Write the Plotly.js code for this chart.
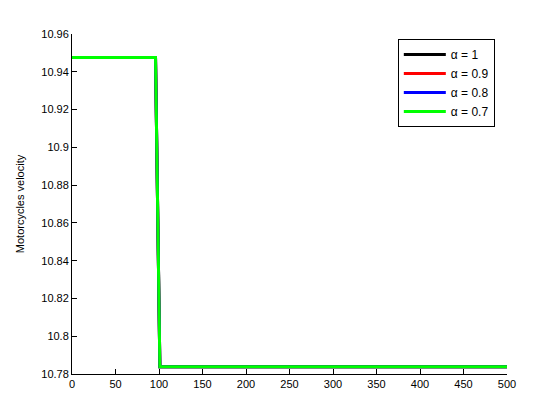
<!DOCTYPE html>
<html>
<head>
<meta charset="utf-8">
<script src="https://cdn.plot.ly/plotly-3.0.1.min.js"></script>
<style>
  html, body { margin: 0; padding: 0; background: #fff; }
  #chart { width: 560px; height: 420px; }
</style>
</head>
<body>
<div id="chart"></div>
<script>
// time axis (breakpoints of the step)
var time = [0, 96, 101, 500];

// velocity for each alpha (curves overlap)
var vAlpha1  = [10.9475, 10.9475, 10.7838, 10.7838];
var vAlpha09 = [10.9475, 10.9475, 10.7838, 10.7838];
var vAlpha08 = [10.9475, 10.9475, 10.7838, 10.7838];
var vAlpha07 = [10.9475, 10.9475, 10.7838, 10.7838];

var seriesNames = ['\u03b1 = 1', '\u03b1 = 0.9', '\u03b1 = 0.8', '\u03b1 = 0.7'];
var seriesColors = ['#000000', '#ff0000', '#0000ff', '#00ff00'];
var seriesValues = [vAlpha1, vAlpha09, vAlpha08, vAlpha07];

var traces = [];
for (var i = 0; i < seriesValues.length; i++) {
    traces.push({
        x: time,
        y: seriesValues[i],
        name: seriesNames[i],
        mode: 'lines',
        type: 'scatter',
        line: {color: seriesColors[i], width: 3}
    });
}

var axisCommon = {
    showline: true,
    linecolor: '#000',
    linewidth: 1,
    ticks: 'inside',
    ticklen: 5,
    tickcolor: '#000',
    showgrid: false,
    zeroline: false,
    mirror: false,
    tickfont: {family: 'Arial, "Liberation Sans", sans-serif', size: 11, color: '#000'}
};

var layout = {
    width: 560,
    height: 420,
    paper_bgcolor: '#fff',
    plot_bgcolor: '#fff',
    font: {family: 'Arial, "Liberation Sans", sans-serif', size: 11, color: '#000'},
    margin: {l: 72, r: 53, t: 34, b: 46},
    showlegend: true,
    legend: {
        x: 0.749, y: 0.985,
        xanchor: 'left', yanchor: 'top',
        bordercolor: '#000', borderwidth: 1,
        bgcolor: '#fff',
        itemwidth: 42,
        font: {size: 12, color: '#000'}
    },
    xaxis: Object.assign({}, axisCommon, {
        range: [0, 500],
        dtick: 50,
        tick0: 0
    }),
    yaxis: Object.assign({}, axisCommon, {
        range: [10.78, 10.96],
        dtick: 0.02,
        tick0: 10.78,
        title: {text: 'Motorcycles velocity', font: {size: 11, color: '#000'}, standoff: 14}
    })
};

Plotly.newPlot('chart', traces, layout, {displayModeBar: false, staticPlot: true});
</script>
</body>
</html>
